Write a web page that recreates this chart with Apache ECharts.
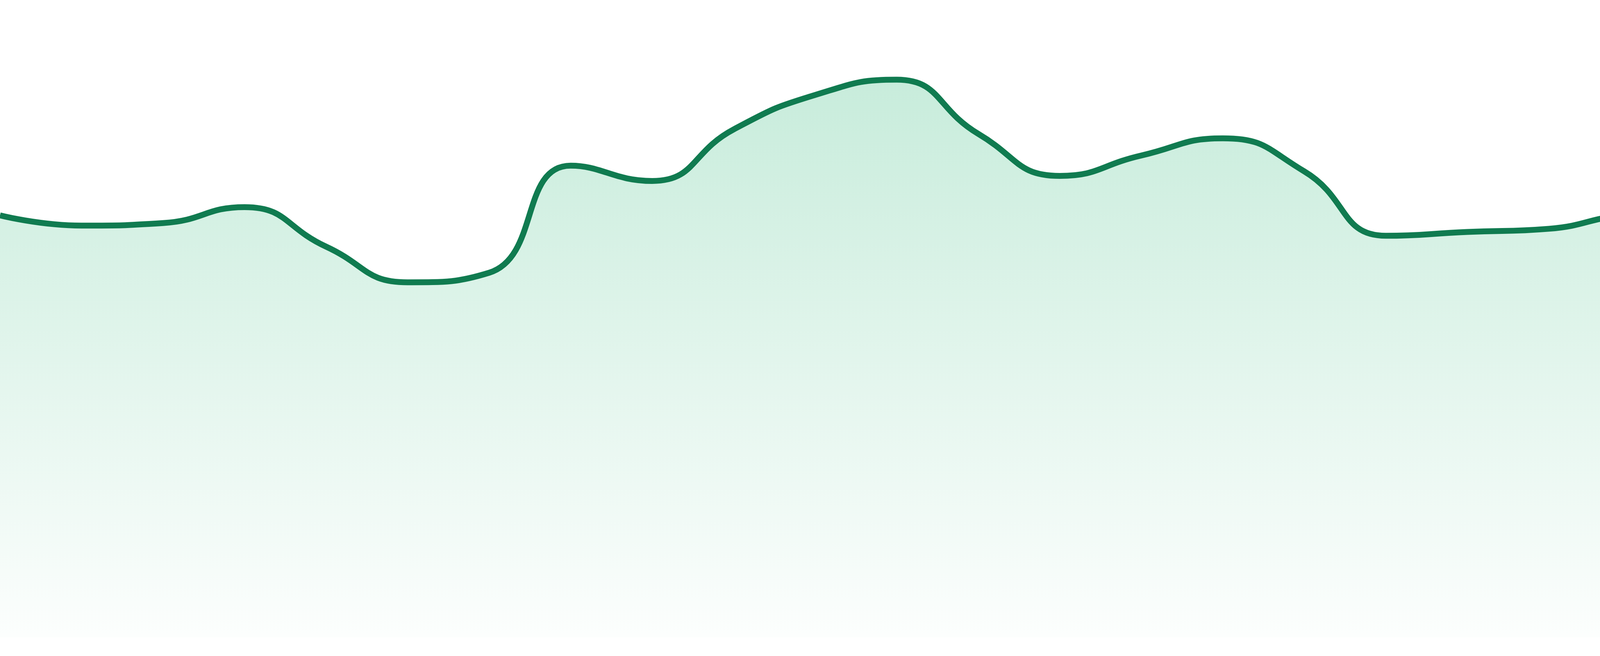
<!DOCTYPE html>
<html>
<head>
<meta charset="utf-8">
<title>area</title>
<script src="https://cdn.jsdelivr.net/npm/echarts@6/dist/echarts.min.js"></script>
<style>
	html, body { margin: 0; padding: 0; background: #fff; }
	#main { width: 4800px; height: 1680px; }
</style>
</head>
<body>
<div id="main"></div>
<script>
var hours = ['00:00', '01:00', '02:00', '03:00', '04:00', '05:00', '06:00', '07:00',
	'08:00', '09:00', '10:00', '11:00', '12:00', '13:00', '14:00', '15:00',
	'16:00', '17:00', '18:00', '19:00', '20:00', '21:00', '22:00', '23:00'];
var values = [66.2, 64.6, 65.0, 67.5, 61.3, 55.7, 57.2, 74.0,
	71.6, 79.7, 85.1, 87.5, 79.0, 72.4, 75.6, 78.3,
	73.1, 63.0, 63.6, 64.1, 66.1, 60.8, 58.6, 61.6];

var chart = echarts.init(document.getElementById('main'));
var option = {
	backgroundColor: '#ffffff',
	animation: false,
	grid: { left: 0, right: 0, top: 0, bottom: 48 },
	xAxis: {
		type: 'category',
		data: hours,
		boundaryGap: false,
		show: false
	},
	yAxis: {
		type: 'value',
		min: 0,
		max: 100,
		show: false
	},
	series: [{
		type: 'line',
		data: values,
		smooth: true,
		symbol: 'none',
		lineStyle: { color: '#107b50', width: 15 },
		areaStyle: {
			color: new echarts.graphic.LinearGradient(0, 0, 0, 1, [
				{ offset: 0, color: 'rgba(47,184,121,0.38)' },
				{ offset: 1, color: 'rgba(47,184,121,0.02)' }
			])
		}
	}]
};
chart.setOption(option);
</script>
</body>
</html>
